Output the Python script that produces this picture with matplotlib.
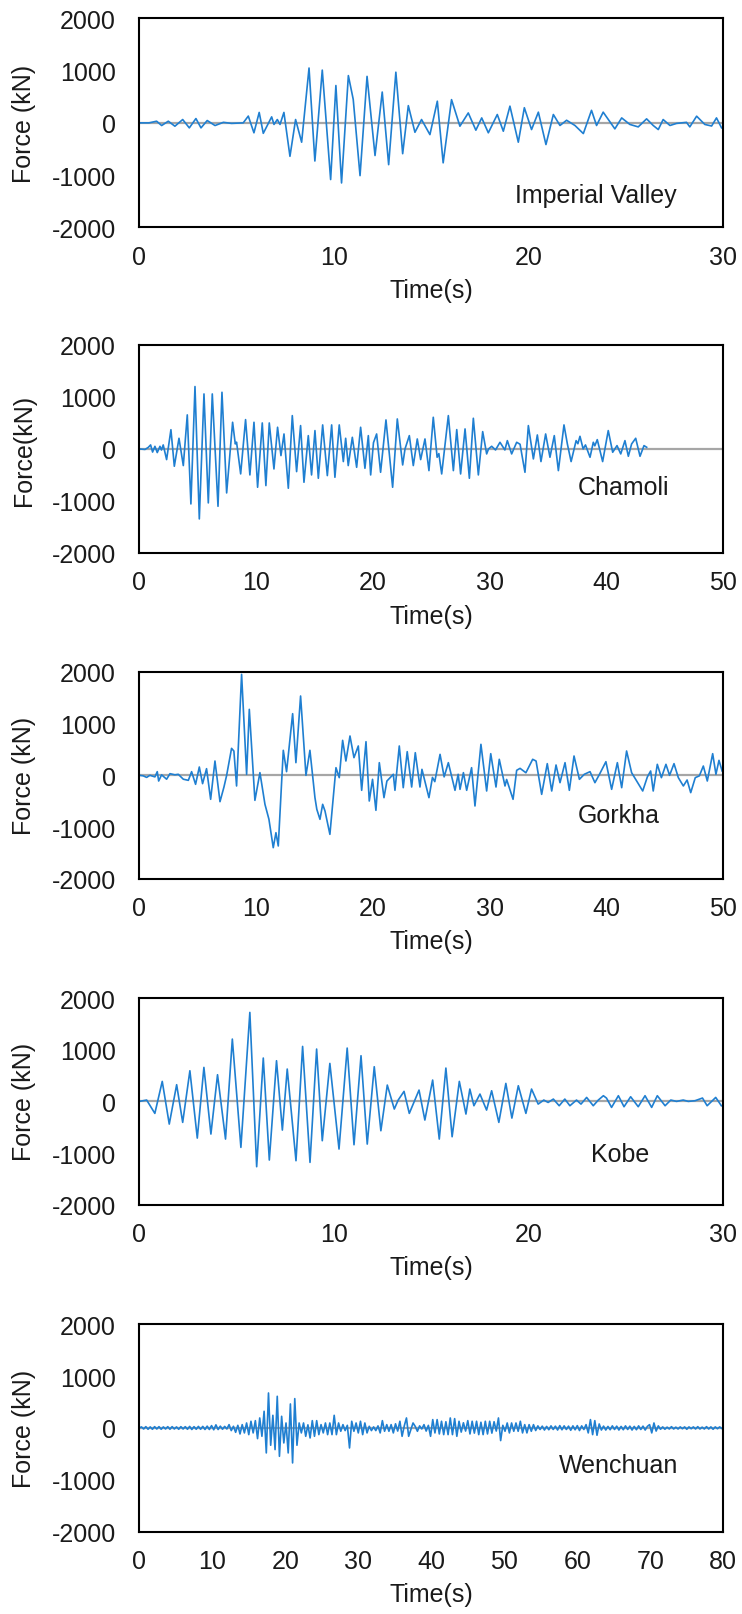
import numpy as np
import matplotlib
matplotlib.use('Agg')
import matplotlib.pyplot as plt

plt.rcParams['font.family'] = ['Liberation Sans', 'DejaVu Sans']
plt.rcParams['axes.unicode_minus'] = False

# Force histories (peak / trough points of each record), time in s, force in kN
imperial_t = [0, 0.5, 0.89, 1.15, 1.49, 1.83, 2.23, 2.57, 2.91, 3.17, 3.49, 3.89, 4.32, 4.74, 5.34,
              5.60, 5.89, 6.16, 6.37, 6.80, 6.92, 7.09, 7.23, 7.43, 7.74, 8.03, 8.34, 8.72, 9.02, 9.40,
              9.83, 10.10, 10.39, 10.74, 10.99, 11.34, 11.70, 12.11, 12.48, 12.81, 13.18, 13.53, 13.82,
              14.16, 14.50, 14.93, 15.31, 15.61, 16.04, 16.47, 16.90, 17.29, 17.59, 17.93, 18.39, 18.70,
              19.04, 19.47, 19.78, 20.15, 20.50, 20.89, 21.27, 21.61, 21.95, 22.38, 22.81, 23.23, 23.49,
              23.83, 24.43, 24.78, 25.20, 25.63, 26.06, 26.40, 26.66, 26.91, 27.26, 27.60, 28.11, 28.28,
              28.63, 29.05, 29.40, 29.65, 29.91]
imperial_f = [0, 0, 32, -51, 32, -64, 64, -96, 83, -96, 45, -51, 10, -10, 0,
              130, -190, 200, -200, 115, -30, 64, -30, 200, -640, 64, -370, 1050, -730, 1010,
              -1085, 715, -1150, 905, 450, -1010, 890, -625, 590, -800, 970, -590, 330,
              -180, 64, -225, 415, -765, 445, -64, 190, -140, 95, -190, 160, -160,
              320, -370, 290, -128, 205, -415, 160, -50, 50, -50, -205, 240, -50,
              205, -115, 95, -30, -77, 77, -50, -128, 64, -50, -10, 10, -77,
              128, -30, -60, 95, -95]

chamoli_t = [0, 0.49, 0.77, 0.97, 1.14, 1.34, 1.54, 1.77, 1.9, 2.05, 2.34, 2.71, 3.0, 3.4, 3.77,
             4.11, 4.42, 4.77, 5.14, 5.54, 5.91, 6.25, 6.74, 7.08, 7.48, 7.99, 8.22, 8.33, 8.68,
             9.10, 9.47, 9.82, 10.13, 10.53, 10.84, 11.13, 11.53, 11.84, 12.13, 12.39, 12.76, 13.10,
             13.47, 13.81, 14.10, 14.47, 14.75, 15.04, 15.33, 15.70, 16.10, 16.47, 16.75, 17.12,
             17.47, 17.67, 17.89, 18.24, 18.61, 18.95, 19.32, 19.61, 19.81, 20.05, 20.32, 20.66,
             21.12, 21.69, 22.09, 22.55, 22.75, 23.12, 23.46, 23.80, 24.09, 24.46, 24.80, 25.17,
             25.5, 25.65, 25.89, 26.46, 26.89, 27.18, 27.51, 27.89, 28.26, 28.6, 29.03, 29.4, 29.74,
             29.9, 30.17, 30.5, 30.88, 31.3, 31.51, 31.88, 32.31, 32.6, 33.02, 33.31, 33.74, 34.08,
             34.39, 34.79, 35.16, 35.53, 35.88, 36.36, 36.65, 36.97, 37.4, 37.55, 37.73, 38.0, 38.2,
             38.59, 38.87, 39.0, 39.21, 39.67, 40.15, 40.53, 40.9, 41.22, 41.58, 41.87, 42.15, 42.5,
             42.87, 43.21, 43.44]
chamoli_f = [0, -10, 30, 77, -60, 50, -70, 50, -20, 77, -205, 370, -333, 205, -320,
             655, -1058, 1200, -1346, 1058, -1038, 1058, -1103, 1090, -846, 513, 96, 130, -480,
             564, -500, 513, -737, 500, -705, 500, -385, 417, -128, 288, -756, 641,
             -436, 449, -641, 256, -500, 353, -564, 462, -513, 462, -545, 462,
             -243, 205, -320, 224, -353, 417, -372, 256, -500, 120, 288, -449,
             558, -737, 577, -308, 0, 256, -320, 192, -205, 192, -417, 609,
             -160, -90, -481, 641, -417, 372, -481, 385, -564, 590, -500, 333, -96,
             0, 51, -20, 128, -20, 160, -96, 128, 90, -449, 449, -192, 269,
             -243, 288, -160, 256, -417, 462, 96, -243, 160, 100, 243, 0, 77,
             -160, 128, 60, 179, -243, 353, -64, 64, -96, 160, -141, 96, 205,
             -141, 64, 32]

gorkha_t = [0, 0.34, 0.63, 0.91, 1.34, 1.54, 1.66, 1.91, 2.34, 2.63, 3.05, 3.34, 3.77, 4.2, 4.48,
            4.82, 5.14, 5.42, 5.76, 6.11, 6.48, 6.91, 7.25, 7.48, 7.9, 8.1, 8.33, 8.76, 9.19, 9.42,
            9.9, 10.33, 10.76, 11.1, 11.47, 11.7, 11.9, 12.33, 12.61, 13.13, 13.41, 13.81, 14.27,
            14.61, 15.04, 15.2, 15.47, 15.7, 15.9, 16.32, 16.84, 17.12, 17.41, 17.69, 18.04, 18.38,
            18.75, 19.04, 19.41, 19.69, 19.97, 20.26, 20.55, 20.95, 21.2, 21.75, 21.89, 22.26, 22.6,
            22.94, 23.32, 23.63, 24.03, 24.2, 24.8, 25.1, 25.3, 25.75, 26.1, 26.46, 27.03, 27.3,
            27.46, 27.75, 28.03, 28.45, 28.74, 29.25, 29.74, 30.09, 30.54, 30.82, 31.31, 31.45,
            32.0, 32.31, 32.6, 33.1, 33.68, 33.97, 34.45, 34.93, 35.31, 35.68, 36.02, 36.45, 36.82,
            37.22, 37.68, 38.1, 38.59, 39.01, 39.4, 39.95, 40.44, 40.93, 41.3, 41.72, 42.15, 42.58,
            43.1, 43.5, 43.78, 44.0, 44.35, 44.7, 45.09, 45.4, 45.78, 46.15, 46.58, 46.9, 47.21,
            47.6, 47.95, 48.29, 48.63, 49.09, 49.37, 49.63, 49.9]
gorkha_f = [0, -10, -40, 0, -30, 71, -110, 10, -75, 32, 10, 20, -75, -97, 71,
            -174, 161, -161, 129, -464, 277, -510, -226, 0, 522, 470, -206, 1954, 19, 1277,
            -484, 52, -561, -850, -1400, -1110, -1367, 484, 71, 1193, 245, 1535, 0,
            484, -432, -658, -851, -561, -690, -1142, 148, -45, 677, 277, 761, 342,
            568, -290, 651, -497, -77, -677, 245, -432, -110, 20, -290, 568, -239,
            458, -226, 438, -226, 116, -432, -40, -122, 406, -30, 245, -290, 20,
            -271, 52, -290, 148, -593, 600, -303, 419, -226, 310, -206, -80,
            -464, 97, 135, 50, 310, 277, -368, 226, -303, 200, -142, 245, -290,
            374, -77, 20, 71, -142, 20, 264, -271, 245, -239, 471, 52, -110,
            -303, -30, 84, -303, 213, -45, 213, 0, 226, -45, -206, -90, -335,
            -45, -10, 180, -110, 419, 20, 290, 84]

kobe_t = [0, 0.38, 0.8, 1.18, 1.54, 1.92, 2.23, 2.6, 2.98, 3.32, 3.68, 4.02, 4.43, 4.78, 5.22,
          5.68, 6.03, 6.37, 6.68, 7.05, 7.35, 7.6, 8.05, 8.39, 8.77, 9.11, 9.4, 9.79, 10.26,
          10.68, 11.03, 11.39, 11.71, 12.07, 12.41, 12.74, 13.1, 13.3, 13.6, 13.87, 14.37, 14.67,
          15.07, 15.41, 15.75, 16.07, 16.44, 16.78, 16.98, 17.19, 17.5, 17.84, 18.1, 18.47, 18.83,
          19.14, 19.47, 19.86, 20.15, 20.49, 20.78, 21.0, 21.27, 21.57, 21.86, 22.12, 22.46, 22.69,
          22.98, 23.32, 23.58, 23.84, 24.0, 24.26, 24.61, 24.9, 25.24, 25.63, 25.98, 26.32, 26.61,
          27.01, 27.3, 27.6, 27.94, 28.2, 28.55, 28.93, 29.17, 29.61, 29.9]
kobe_f = [0, 26, -232, 387, -439, 323, -406, 593, -710, 658, -632, 516, -729, 1206, -890,
          1722, -1264, 839, -1135, 787, -555, 626, -1148, 1064, -1180, 1013, -761, 735, -922,
          1032, -839, 884, -826, 671, -568, 316, -148, 26, 194, -232, 219, -361,
          413, -729, 645, -684, 387, -245, 239, -84, 142, -168, 206, -406, 348,
          -323, 303, -232, 239, -52, 26, -20, 45, -84, 45, -84, 26, -52,
          77, -84, 26, 110, 64, -116, 110, -103, 90, -103, 110, -116, 110,
          -84, 26, 0, 26, 0, 13, 65, -84, 77, -84]

# Wenchuan record: one peak every 0.3 s
wenchuan_dt = 0.3
wenchuan_f = [0, 20, -20, 25, -25, 20, -25, 25, -20, 25,
              -25, 20, -20, 25, -25, 25, -20, 20, -25, 25,
              -20, 25, -25, 30, -30, 25, -25, 30, -25, 30,
              -30, 35, -30, 45, -35, 60, -30, 35, -25, 30,
              -20, 64, -51, 32, -84, 51, -116, 64, -96, 96,
              -129, 129, -96, 141, -206, 193, -161, 322, -482, 675,
              -334, 244, -418, 611, -547, 225, -289, 96, -482, 463,
              -675, 566, -334, 96, -96, 96, -161, 60, -193, 141,
              -161, 141, -129, 64, -96, 96, -129, 96, -129, 244,
              -129, 96, -64, 64, -51, 51, -386, 129, -64, 96,
              -96, 129, -129, 96, -96, 32, -51, 20, -51, 40,
              -96, 141, -64, 64, -64, 64, -96, 80, -60, 129,
              -161, 40, 193, -161, -30, 96, 30, -64,
              40, -20, 64, -60, 50, -161, 161, -96, 161, -116,
              129, -129, 120, -129, 193, -129, 180, -161, 129, -80,
              100, -60, 141, -116, 129, -100, 129, -129, 110, -129,
              129, -116, 129, -100, 120, -60,
              193, -244, 51, -64, 96, -96, 96, -64, 96, -64,
              129, -96, 64, -96, 64, -64, 64, -50, 40,
              -30, 35, -40, 30, -35, 40, -30, 35, -40, 45,
              -35, 40, -30, 35, -45, 40, -35, 45, -50, 40,
              -30, 64, -96, 161, -129, 141, -141, 77, -40,
              35, -40, 30, -35, 40, -30, 35, -40, 30, -35,
              40, -30, 35, -40, 30, -35, 40, -30, 35, -40, 30,
              64, -96, 96, -60, 40,
              -25, 20, -25, 15, -20, 25, -20, 15, -20, 20,
              -15, 20, -25, 20, -15, 20, -20, 25, -20, 15,
              -20, 25, -20, 20, -25, 20, -15, 20, -10]
wenchuan_t = np.arange(len(wenchuan_f)) * wenchuan_dt

records = [
    ('Imperial Valley', imperial_t, imperial_f, 30, 'Force (kN)', (0.782, 0.155)),
    ('Chamoli', chamoli_t, chamoli_f, 50, 'Force(kN)', (0.829, 0.317)),
    ('Gorkha', gorkha_t, gorkha_f, 50, 'Force (kN)', (0.821, 0.31)),
    ('Kobe', kobe_t, kobe_f, 30, 'Force (kN)', (0.823, 0.245)),
    ('Wenchuan', wenchuan_t, wenchuan_f, 80, 'Force (kN)', (0.82, 0.32)),
]

fig = plt.figure(figsize=(7.42, 16.15), dpi=100)

# axes boxes in figure fractions: [left, bottom, width, height]
boxes = [
    [0.1877, 0.8586, 0.7871, 0.1294],
    [0.1877, 0.6570, 0.7871, 0.1288],
    [0.1877, 0.4553, 0.7871, 0.1280],
    [0.1877, 0.2534, 0.7871, 0.1280],
    [0.1877, 0.0510, 0.7871, 0.1284],
]

fs = 18
for box, (name, t, f, tmax, ylab, txy) in zip(boxes, records):
    ax = fig.add_axes(box)
    ax.axhline(0, color='#a6a6a6', lw=1.6, zorder=1)
    ax.plot(t, f, color='#1f7fd1', lw=1.2, zorder=2, solid_joinstyle='round')
    ax.set_xlim(0, tmax)
    ax.set_ylim(-2000, 2000)
    ax.set_xticks(np.arange(0, tmax + 1, 10))
    ax.set_yticks([-2000, -1000, 0, 1000, 2000])
    ax.tick_params(axis='both', length=0, labelsize=fs, colors='#1a1a1a')
    ax.tick_params(axis='x', pad=12.5)
    ax.tick_params(axis='y', pad=17)
    for sp in ax.spines.values():
        sp.set_color('black')
        sp.set_linewidth(1.5)
    ax.set_xlabel('Time(s)', fontsize=fs, color='#1a1a1a')
    ax.xaxis.set_label_coords(0.5, -0.244)
    ax.set_ylabel(ylab, fontsize=fs, color='#1a1a1a')
    ax.yaxis.set_label_coords(-0.177, 0.5)
    ax.text(txy[0], txy[1], name, transform=ax.transAxes, fontsize=fs,
            ha='center', va='center', color='#1a1a1a')

fig.savefig('out.png', dpi=100)
